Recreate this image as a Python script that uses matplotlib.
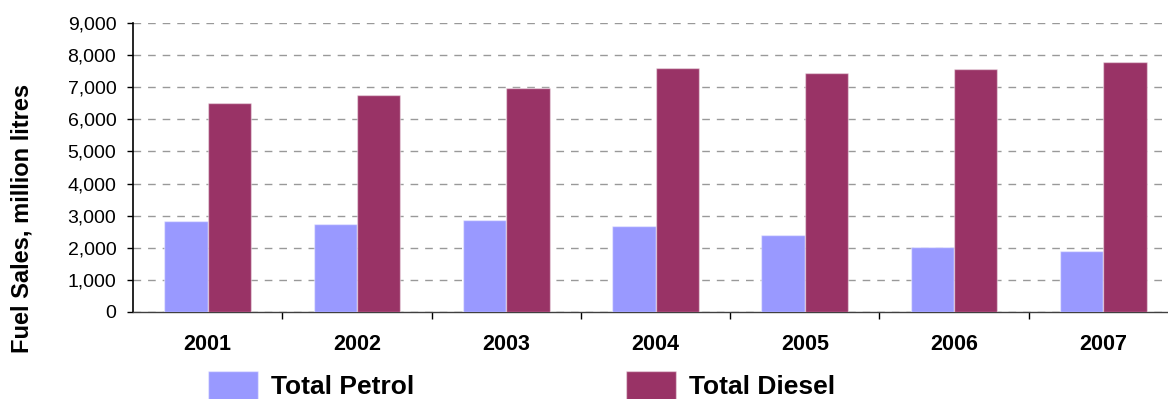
import numpy as np
import matplotlib.pyplot as plt
from matplotlib.ticker import FuncFormatter, FixedLocator

plt.rcParams['font.family'] = ['Liberation Sans', 'DejaVu Sans']

# fuel sales by year, million litres
years = ['2001', '2002', '2003', '2004', '2005', '2006', '2007']
petrol = [2820, 2750, 2880, 2670, 2410, 2030, 1900]
diesel = [6510, 6760, 6970, 7610, 7440, 7560, 7770]

fig = plt.figure(figsize=(11.68, 3.99), dpi=100)
ax = fig.add_axes([133 / 1168, 87 / 399, 1045 / 1168, 289 / 399])

x = np.arange(len(years))
w = 0.29
ax.bar(x - w / 2, petrol, w, color='#9999FF', edgecolor=(1, 1, 1, 0.45), linewidth=1,
       label='Total Petrol', zorder=3)
ax.bar(x + w / 2, diesel, w, color='#993366', edgecolor=(1, 1, 1, 0.45), linewidth=1,
       label='Total Diesel', zorder=3)

ax.set_xlim(-0.5, len(years) - 0.5)
ax.set_ylim(0, 9000)
ax.set_yticks(np.arange(0, 9001, 1000))
ax.yaxis.set_major_formatter(FuncFormatter(lambda v, p: '{:,.0f}'.format(v)))
ax.tick_params(axis='y', direction='out', length=4.5, width=1, labelsize=14, pad=7.5)
ax.yaxis.grid(True, color='#999999', linestyle=(0, (5.5, 5)), linewidth=1, zorder=0)

# tick marks between the years, labels at the group centres
ax.xaxis.set_major_locator(FixedLocator(np.arange(0.5, len(years) - 0.5, 1)))
ax.xaxis.set_major_formatter(FuncFormatter(lambda v, p: ''))
ax.xaxis.set_minor_locator(FixedLocator(x))
ax.set_xticklabels(years, minor=True, fontweight='bold', fontsize=15.5)
ax.tick_params(axis='x', which='major', direction='out', length=5, width=1)
ax.tick_params(axis='x', which='minor', length=0, pad=16)

for s in ['top', 'right']:
    ax.spines[s].set_visible(False)
ax.spines['left'].set_linewidth(1.2)
ax.spines['bottom'].set_color('#404040')
ax.spines['bottom'].set_linewidth(1)

fig.text(22 / 1168, 1 - 218 / 399, 'Fuel Sales, million litres', rotation=90,
         ha='center', va='center', fontsize=17, fontweight='bold')

fig.legend(loc='upper left', bbox_to_anchor=(208 / 1168, 1 - 371 / 399), ncol=2,
           frameon=False, prop={'weight': 'bold', 'size': 19},
           handlelength=1.9, handleheight=1.3, handletextpad=0.5,
           columnspacing=8.0, borderpad=0, borderaxespad=0)

fig.savefig('out.png', dpi=100)
